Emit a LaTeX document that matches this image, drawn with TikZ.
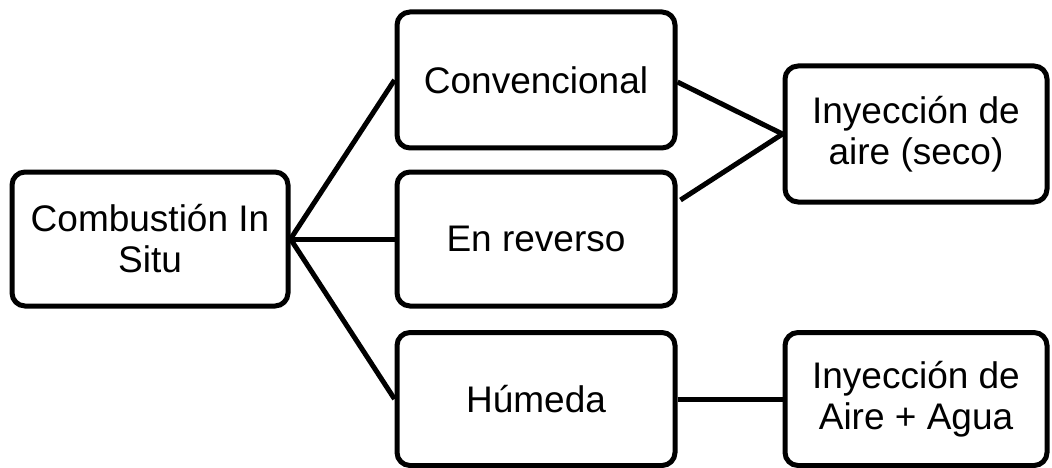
\documentclass[tikz,border=0pt]{standalone}
\usepackage{fontspec}
\setmainfont{Liberation Sans}
\begin{document}
\begin{tikzpicture}[x=1pt,y=-1pt,
  box/.style={draw=black, line width=5pt, rounded corners=13pt, fill=white, inner sep=0pt, align=center,
    font=\fontsize{37}{41}\selectfont},
  link/.style={line width=5pt}]
\useasboundingbox (0,0) rectangle (1052,468);
\node[box, minimum width=276pt, minimum height=134pt] (cis) at (150,239) {Combustión In\\Situ};
\node[box, minimum width=278pt, minimum height=136pt] (conv) at (536,80) {Convencional};
\node[box, minimum width=278pt, minimum height=134pt] (rev) at (536,239) {En reverso};
\node[box, minimum width=278pt, minimum height=133pt] (hum) at (536,399) {Húmeda};
\node[box, minimum width=262pt, minimum height=136pt] (seco) at (916,134) {Inyección de\\aire (seco)};
\node[box, minimum width=262pt, minimum height=133pt] (agua) at (916,399) {Inyección de\\Aire + Agua};
\draw[link] (cis.east) -- (conv.west);
\draw[link] (cis.east) -- (rev.west);
\draw[link] (cis.east) -- (hum.west);
\draw[link] ([yshift=-2pt]conv.east) -- (seco.west);
\draw[link] ([xshift=3pt,yshift=-120pt]conv.east) -- (seco.west);
\draw[link] (hum.east) -- (agua.west);
\end{tikzpicture}
\end{document}
